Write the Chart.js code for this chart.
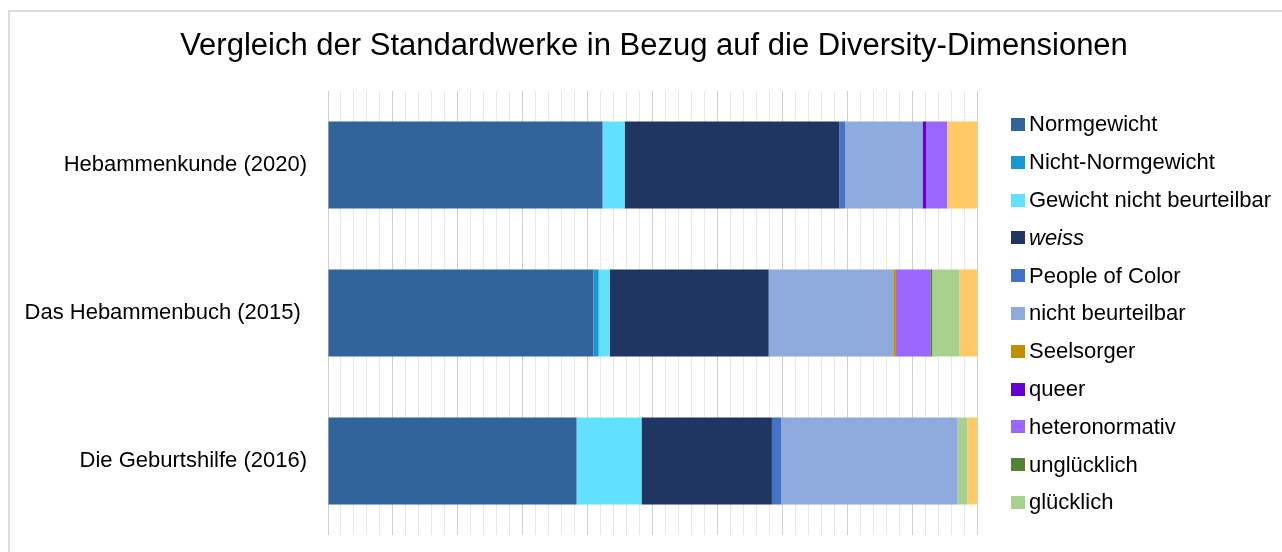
<!DOCTYPE html>
<html lang="de">
<head>
<meta charset="utf-8">
<title>Vergleich der Standardwerke</title>
<script src="https://cdn.jsdelivr.net/npm/chart.js@4"></script>
<style>
    html, body { margin: 0; padding: 0; background: #fff; overflow: hidden; }
    body { width: 1282px; height: 552px; position: relative; font-family: 'Liberation Sans', Arial, sans-serif; }
    #frame { position: absolute; left: 8px; top: 10px; width: 1400px; height: 700px; border-top: 2px solid #dcdcdc; border-left: 2px solid #dcdcdc; }
    #chart-box { position: absolute; left: 9px; top: 11px; width: 1290px; height: 560px; }
    #legend { position: absolute; left: 1011px; top: 105.6px; margin: 0; padding: 0; list-style: none; }
    #legend li { height: 37.8px; display: flex; align-items: center; font-size: 22px; color: #000; white-space: nowrap; }
    #legend .box { width: 14px; height: 13px; margin-right: 4px; flex: none; }
</style>
</head>
<body>
<div id="frame"></div>
<div id="chart-box"><canvas id="diversity-chart"></canvas></div>
<ul id="legend"></ul>

<script>
// --- Data (share of each dimension per book, in percent) ---
const categories = ['Hebammenkunde (2020)', 'Das Hebammenbuch (2015) ', 'Die Geburtshilfe (2016)'];

const seriesNames = [
    'Normgewicht', 'Nicht-Normgewicht', 'Gewicht nicht beurteilbar', 'weiss',
    'People of Color', 'nicht beurteilbar', 'Seelsorger', 'queer',
    'heteronormativ', 'unglücklich', 'glücklich', 'Sonstige'
];

const normgewicht             = [42.3, 40.9, 38.3];
const nichtNormgewicht        = [0, 0.8, 0];
const gewichtNichtBeurteilbar = [3.4, 1.7, 10.0];
const weiss                   = [33.1, 24.5, 20.1];
const peopleOfColor           = [0.9, 0, 1.4];
const nichtBeurteilbar        = [11.9, 19.2, 27.2];
const seelsorger              = [0, 0.4, 0];
const queer                   = [0.6, 0, 0];
const heteronormativ          = [3.2, 5.3, 0];
const ungluecklich            = [0, 0.3, 0];
const gluecklich              = [0, 4.2, 1.5];
const sonstige                = [4.6, 2.7, 1.5]; // last segment, not shown in the legend

const seriesValues = [
    normgewicht, nichtNormgewicht, gewichtNichtBeurteilbar, weiss,
    peopleOfColor, nichtBeurteilbar, seelsorger, queer,
    heteronormativ, ungluecklich, gluecklich, sonstige
];

const seriesColors = [
    '#31649a', '#1797d3', '#61e0ff', '#1f3662',
    '#4472c4', '#8faadc', '#bf8f00', '#6600cc',
    '#9966ff', '#548235', '#a9d18e', '#ffc965'
];

const legendCount = 11; // the original legend ends at "glücklich"

// --- Legend ---
function buildLegend() {
    const legendList = document.getElementById('legend');
    seriesNames.slice(0, legendCount).forEach((name, i) => {
        const li = document.createElement('li');
        const box = document.createElement('span');
        box.className = 'box';
        box.style.background = seriesColors[i];
        const label = document.createElement('span');
        label.textContent = name;
        if (name === 'weiss') label.style.fontStyle = 'italic';
        li.appendChild(box);
        li.appendChild(label);
        legendList.appendChild(li);
    });
}

// --- Chart ---
function buildChart() {
    Chart.defaults.font.family = "'Liberation Sans', Arial, sans-serif";
    Chart.defaults.color = '#000';

    const datasets = seriesNames.map((name, i) => ({
        label: name,
        data: seriesValues[i],
        backgroundColor: seriesColors[i],
        borderWidth: 0,
        categoryPercentage: 1,
        barPercentage: 0.588
    }));

    const ctx = document.getElementById('diversity-chart').getContext('2d');
    return new Chart(ctx, {
        type: 'bar',
        data: { labels: categories, datasets: datasets },
        options: {
            indexAxis: 'y',
            responsive: true,
            maintainAspectRatio: false,
            animation: false,
            layout: { padding: { top: 0, bottom: 36, left: 10, right: 10 } },
            plugins: {
                legend: { display: false },
                tooltip: { enabled: false },
                title: {
                    display: true,
                    text: 'Vergleich der Standardwerke in Bezug auf die Diversity-Dimensionen',
                    color: '#000',
                    font: { size: 31, weight: 'normal' },
                    padding: { top: 16.4, bottom: 26.4 }
                }
            },
            scales: {
                x: {
                    stacked: true,
                    min: 0,
                    max: 100,
                    ticks: { display: false, stepSize: 2, maxTicksLimit: 60 },
                    border: { display: false },
                    grid: {
                        drawTicks: false,
                        color: c => (c.tick && Math.round(c.tick.value) % 10 === 0) ? '#d0d0d0' : '#e8e8e8'
                    }
                },
                y: {
                    stacked: true,
                    border: { display: false },
                    grid: { display: false, drawTicks: false },
                    ticks: { padding: 21, font: { size: 22 }, color: '#000' },
                    afterFit: scale => { scale.width = 309; }
                },
                // empty axis on the right that keeps room for the legend
                legendSpace: {
                    type: 'category',
                    position: 'right',
                    border: { display: false },
                    grid: { display: false, drawTicks: false },
                    ticks: { display: false },
                    afterFit: scale => { scale.width = 312; }
                }
            }
        }
    });
}

buildLegend();
buildChart();
</script>
</body>
</html>
